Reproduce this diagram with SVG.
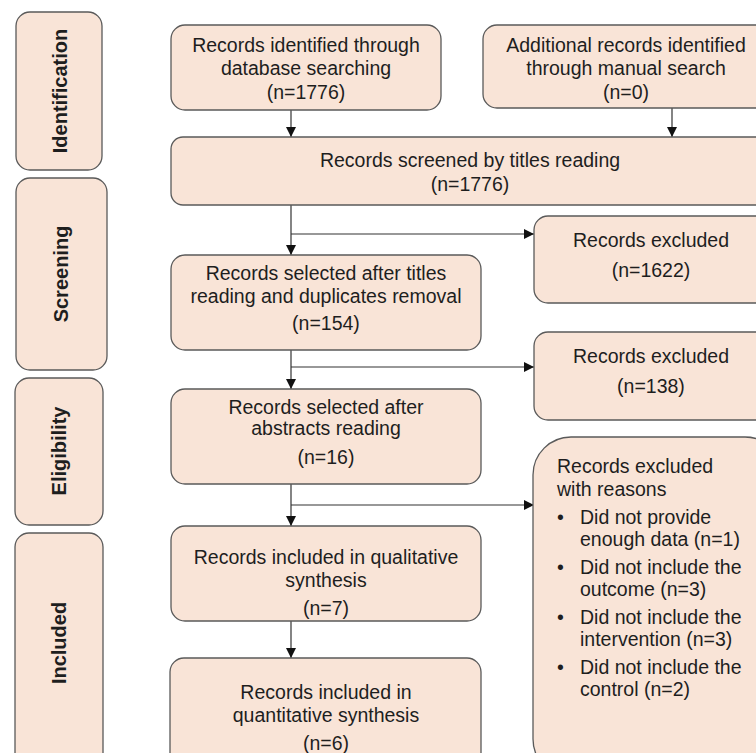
<svg xmlns="http://www.w3.org/2000/svg" width="756" height="753" viewBox="0 0 756 753">
<style>
.box{fill:#f9e4d7;stroke:#5a5a5a;stroke-width:1.3}
.t{font-family:"Liberation Sans",Arial,sans-serif;font-size:19.5px;fill:#1e1e1e;text-anchor:middle}
.tl{font-family:"Liberation Sans",Arial,sans-serif;font-size:19.5px;fill:#1e1e1e}
.side{font-family:"Liberation Sans",Arial,sans-serif;font-size:20px;font-weight:bold;fill:#1e1e1e;text-anchor:middle}
.ln{stroke:#333;stroke-width:1.2;fill:none}
</style>
<defs>
<marker id="ah" viewBox="0 0 10 10" refX="10" refY="5" markerWidth="10" markerHeight="10" markerUnits="userSpaceOnUse" orient="auto">
<path d="M0,0 L10,5 L0,10 z" fill="#111"/>
</marker>
</defs>
<rect width="756" height="753" fill="#fff"/>
<g id="side-identification"><rect class="box" x="16" y="12" width="86" height="158" rx="14"/><text class="side" transform="translate(67,91) rotate(-90)">Identification</text></g>
<g id="side-screening"><rect class="box" x="16" y="178" width="91" height="192" rx="14"/><text class="side" transform="translate(68,274) rotate(-90)">Screening</text></g>
<g id="side-eligibility"><rect class="box" x="15" y="378" width="88" height="147" rx="14"/><text class="side" transform="translate(66,451) rotate(-90)">Eligibility</text></g>
<g id="side-included"><rect class="box" x="15" y="533" width="88" height="240" rx="14"/><text class="side" transform="translate(66,643) rotate(-90)">Included</text></g>

<g id="connectors">
<line class="ln" x1="291" y1="110" x2="291" y2="137" marker-end="url(#ah)"/>
<line class="ln" x1="672" y1="108" x2="672" y2="137" marker-end="url(#ah)"/>
<line class="ln" x1="291" y1="205" x2="291" y2="255" marker-end="url(#ah)"/>
<line class="ln" x1="291" y1="234" x2="534" y2="234" marker-end="url(#ah)"/>
<line class="ln" x1="291" y1="350" x2="291" y2="389" marker-end="url(#ah)"/>
<line class="ln" x1="291" y1="367" x2="534" y2="367" marker-end="url(#ah)"/>
<line class="ln" x1="291" y1="484" x2="291" y2="526" marker-end="url(#ah)"/>
<line class="ln" x1="291" y1="505" x2="534" y2="505" marker-end="url(#ah)"/>
<line class="ln" x1="291" y1="621" x2="291" y2="658" marker-end="url(#ah)"/>
</g>

<g id="n-database"><rect class="box" x="171" y="25" width="270" height="85" rx="14"/>
<text class="t" x="306" y="52">Records identified through</text>
<text class="t" x="306" y="75">database searching</text>
<text class="t" x="306" y="99">(n=1776)</text></g>
<g id="n-manual"><rect class="box" x="483" y="25" width="290" height="83" rx="14"/>
<text class="t" x="626" y="52">Additional records identified</text>
<text class="t" x="626" y="75">through manual search</text>
<text class="t" x="626" y="99">(n=0)</text></g>
<g id="n-screened"><rect class="box" x="171" y="137" width="600" height="68" rx="12"/>
<text class="t" x="470" y="167">Records screened by titles reading</text>
<text class="t" x="470" y="191">(n=1776)</text></g>
<g id="n-excl1"><rect class="box" x="534" y="216" width="240" height="87" rx="14"/>
<text class="t" x="651" y="247">Records excluded</text>
<text class="t" x="651" y="277">(n=1622)</text></g>
<g id="n-sel1"><rect class="box" x="171" y="255" width="310" height="95" rx="14"/>
<text class="t" x="326" y="280">Records selected after titles</text>
<text class="t" x="326" y="303">reading and duplicates removal</text>
<text class="t" x="326" y="330">(n=154)</text></g>
<g id="n-excl2"><rect class="box" x="534" y="332" width="240" height="88" rx="14"/>
<text class="t" x="651" y="363">Records excluded</text>
<text class="t" x="651" y="393">(n=138)</text></g>
<g id="n-sel2"><rect class="box" x="171" y="389" width="310" height="95" rx="14"/>
<text class="t" x="326" y="414">Records selected after</text>
<text class="t" x="326" y="435">abstracts reading</text>
<text class="t" x="326" y="464">(n=16)</text></g>
<g id="n-excl3"><rect class="box" x="533" y="437" width="250" height="340" rx="38"/>
<text class="tl" x="557" y="473">Records excluded</text>
<text class="tl" x="557" y="496">with reasons</text>
<text class="tl" x="557" y="524">•</text><text class="tl" x="580" y="524">Did not provide</text>
<text class="tl" x="580" y="546">enough data (n=1)</text>
<text class="tl" x="557" y="574">•</text><text class="tl" x="580" y="574">Did not include the</text>
<text class="tl" x="580" y="596">outcome (n=3)</text>
<text class="tl" x="557" y="624">•</text><text class="tl" x="580" y="624">Did not include the</text>
<text class="tl" x="580" y="646">intervention (n=3)</text>
<text class="tl" x="557" y="674">•</text><text class="tl" x="580" y="674">Did not include the</text>
<text class="tl" x="580" y="696">control (n=2)</text></g>
<g id="n-qual"><rect class="box" x="171" y="526" width="310" height="95" rx="14"/>
<text class="t" x="326" y="564">Records included in qualitative</text>
<text class="t" x="326" y="587">synthesis</text>
<text class="t" x="326" y="615">(n=7)</text></g>
<g id="n-quant"><rect class="box" x="170" y="658" width="311" height="115" rx="14"/>
<text class="t" x="326" y="699">Records included in</text>
<text class="t" x="326" y="722">quantitative synthesis</text>
<text class="t" x="326" y="750">(n=6)</text></g>
</svg>
